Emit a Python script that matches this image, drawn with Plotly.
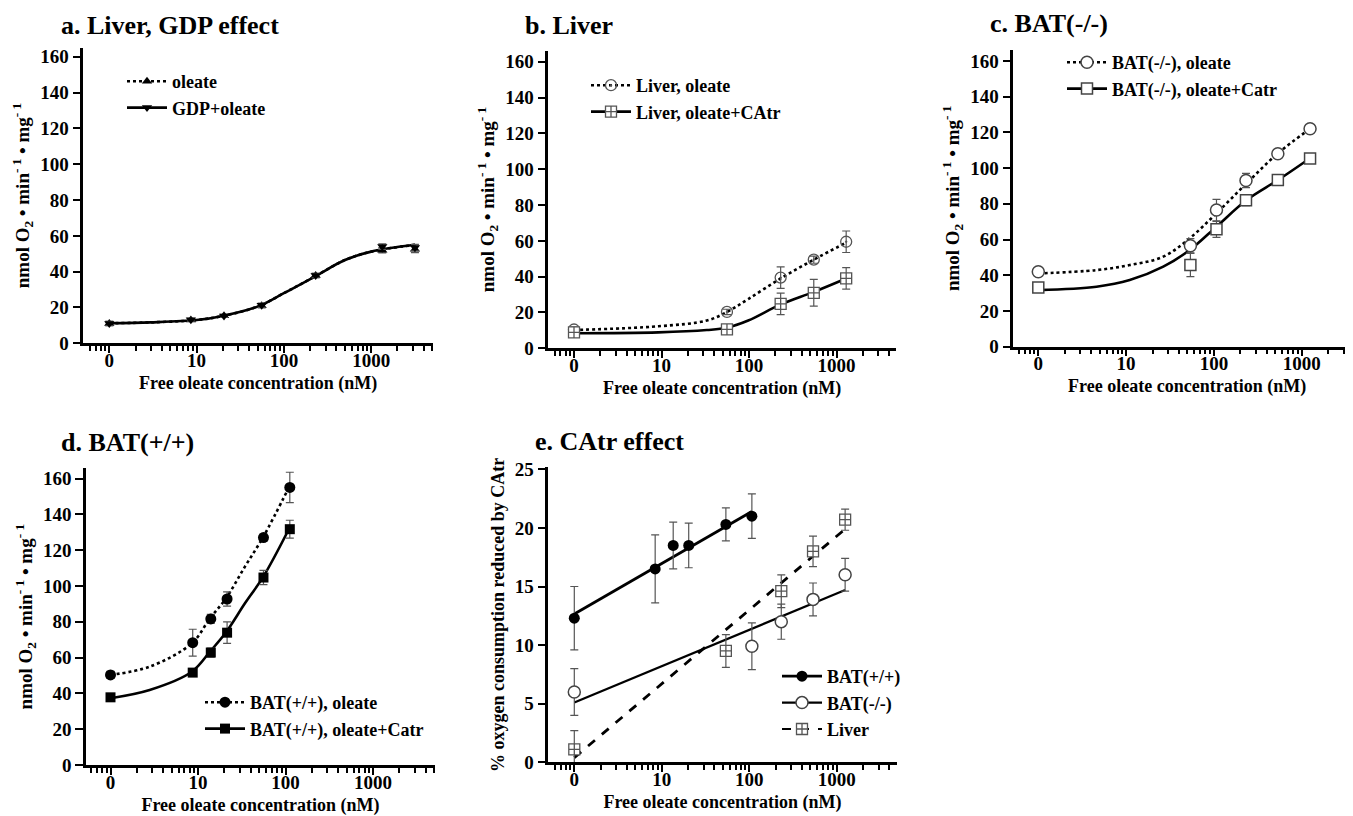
import plotly.graph_objects as go

W, H = 1353, 816
OFF = 8  # page body margin of the browser
FONT = "Liberation Serif"

# ---------------- data ----------------
# a. Liver, GDP effect
a_conc = [0, 8.6, 20.6, 55.6, 231, 1340, 3170]
a_oleate = [11.0, 13.0, 15.4, 21.0, 37.8, 52.0, 52.5]
a_gdp = [11.0, 13.2, 15.2, 21.3, 37.8, 54.0, 53.5]
a_err = [1.2, 0.8, 0.8, 1.2, 1.2, 1.5, 1.8]
a_fit_conc = [0, 3, 10, 20, 50, 100, 230, 500, 1000, 3170]
a_fit = [11.2, 11.7, 13.0, 15.3, 20.5, 28.0, 37.5, 46.5, 51.2, 55.0]

# b. Liver
b_conc = [0, 56, 230, 550, 1290]
b_oleate = [10.5, 20.3, 39.5, 49.5, 59.5]
b_oleate_err = [1.5, 1.5, 6.0, 2.0, 6.0]
b_catr = [8.9, 10.6, 24.8, 31.0, 39.0]
b_catr_err = [1.5, 1.5, 6.0, 7.5, 6.0]
b_fit_conc = [0, 9.2, 33, 56, 98, 230, 550, 1290]
b_oleate_fit = [10.2, 12.3, 15.5, 20.3, 27.5, 39.0, 49.5, 59.0]
b_catr_fit = [8.4, 8.9, 10.2, 11.5, 15.5, 24.5, 31.5, 39.0]

# c. BAT(-/-)
c_conc = [0, 54, 107, 232, 535, 1245]
c_oleate = [42.0, 56.5, 76.5, 93.0, 108.0, 122.0]
c_oleate_err = [1.0, 4.0, 6.0, 4.0, 1.5, 1.5]
c_catr = [33.2, 45.7, 65.7, 82.0, 93.3, 105.3]
c_catr_err = [1.0, 6.5, 4.5, 3.0, 1.5, 1.5]
c_fit_conc = [0, 4.6, 11, 26.5, 53, 107, 236, 537, 1245]
c_oleate_fit = [41.0, 42.9, 45.7, 50.4, 60.7, 74.7, 91.5, 108.3, 122.0]
c_catr_fit = [31.7, 33.6, 37.3, 44.8, 54.1, 67.2, 82.1, 93.3, 105.5]

# d. BAT(+/+)
d_conc = [0, 8.7, 14, 21.5, 56, 112]
d_oleate = [50.3, 68.3, 81.6, 92.7, 127.0, 155.0]
d_oleate_err = [2.0, 7.5, 2.5, 4.0, 2.0, 8.5]
d_catr = [37.8, 51.6, 62.8, 73.9, 104.7, 131.7]
d_catr_err = [1.5, 1.5, 2.5, 6.0, 4.0, 5.0]
d_fit_conc = [0, 2.8, 8.5, 13.7, 20.9, 34.4, 55.8, 110.6]
d_oleate_fit = [50.3, 54.9, 68.0, 81.9, 93.1, 110.8, 127.5, 155.5]
d_catr_fit = [37.3, 41.9, 52.1, 63.3, 74.1, 90.3, 105.2, 132.2]

# e. CAtr effect
e_wt_conc = [0, 8.4, 13.5, 20.3, 54, 107]
e_wt = [12.3, 16.5, 18.5, 18.5, 20.3, 21.0]
e_wt_err = [2.7, 2.9, 2.0, 1.9, 1.4, 1.9]
e_ko_conc = [0, 107, 232, 535, 1245]
e_ko = [6.0, 9.9, 12.0, 13.9, 16.0]
e_ko_err = [2.0, 2.0, 1.5, 1.4, 1.4]
e_liv_conc = [0, 54, 232, 535, 1245]
e_liv = [1.1, 9.5, 14.6, 18.0, 20.7]
e_liv_err = [1.6, 1.4, 1.4, 1.3, 0.9]
e_wt_fit_conc = [0, 107]
e_wt_fit = [12.65, 21.4]
e_ko_fit_conc = [0, 1245]
e_ko_fit = [5.1, 14.7]
e_liv_fit_conc = [0, 1245]
e_liv_fit = [0.4, 19.9]

x_tickvals = [1, 10, 100, 1000]
x_ticktext = ["0", "10", "100", "1000"]
x_title = "Free oleate concentration (nM)"
y_title = "nmol O<sub>2</sub> • min<sup>- 1</sup> • mg<sup>- 1</sup>"
e_y_title = "% oxygen consumption reduced by CAtr"


def xp(conc):
    # the "0" concentration is drawn at the first decade position
    return [c if c > 0 else 1 for c in conc]


minor_vals = [m * 10 ** k for k in range(-1, 4) for m in range(2, 10)
              if 0.5 <= m * 10 ** k <= 5000]

fig = go.Figure()

BLACK = "black"
GRAY = "#555555"


def err(arr, color=GRAY):
    return dict(type="data", array=arr, visible=True, color=color,
                thickness=1.2, width=4)


def add_line(x, y, dash, ax, width=2.6):
    fig.add_trace(go.Scatter(x=xp(x), y=y, mode="lines",
                             line=dict(color=BLACK, width=width, dash=dash,
                                       shape="spline", smoothing=1.0),
                             xaxis="x" + ax, yaxis="y" + ax,
                             showlegend=False, hoverinfo="skip"))


def add_pts(x, y, e, marker, ax, name):
    fig.add_trace(go.Scatter(x=xp(x), y=y, mode="markers", marker=marker,
                             error_y=err(e), xaxis="x" + ax, yaxis="y" + ax,
                             showlegend=False, name=name))


def add_leg(name, dash, marker, legend, width=2.6):
    fig.add_trace(go.Scatter(x=[None], y=[None], mode="lines+markers",
                             name=name, marker=marker,
                             line=dict(color=BLACK, width=width, dash=dash),
                             legend=legend, showlegend=True))


# markers
m_tri_up = dict(symbol="triangle-up", size=9, color=BLACK)
m_tri_dn = dict(symbol="triangle-down", size=9, color=BLACK)
m_circ_dot = dict(symbol="circle-open-dot", size=11, color=GRAY, line=dict(width=1.3))
m_sq_cross = dict(symbol="square-cross", size=11, color="white", line=dict(color=GRAY, width=1.3))
m_circ_open = dict(symbol="circle", size=12, color="white", line=dict(color="#444444", width=1.5))
m_sq_open = dict(symbol="square", size=11, color="white", line=dict(color="#444444", width=1.5))
m_circ_fill = dict(symbol="circle", size=11, color=BLACK)
m_sq_fill = dict(symbol="square", size=10, color=BLACK)

# ---- panel a ----
add_line(a_fit_conc, a_fit, "solid", "")
add_line(a_fit_conc, a_fit, "dot", "")
add_pts(a_conc, a_oleate, a_err, m_tri_up, "", "oleate")
add_pts(a_conc, a_gdp, a_err, m_tri_dn, "", "GDP+oleate")
add_leg("oleate", "dot", m_tri_up, "legend")
add_leg("GDP+oleate", "solid", m_tri_dn, "legend")

# ---- panel b ----
add_line(b_fit_conc, b_oleate_fit, "dot", "2")
add_line(b_fit_conc, b_catr_fit, "solid", "2")
add_pts(b_conc, b_oleate, b_oleate_err, m_circ_dot, "2", "Liver, oleate")
add_pts(b_conc, b_catr, b_catr_err, m_sq_cross, "2", "Liver, oleate+CAtr")
add_leg("Liver, oleate", "dot", m_circ_dot, "legend2")
add_leg("Liver, oleate+CAtr", "solid", m_sq_cross, "legend2")

# ---- panel c ----
add_line(c_fit_conc, c_oleate_fit, "dot", "3")
add_line(c_fit_conc, c_catr_fit, "solid", "3")
add_pts(c_conc, c_oleate, c_oleate_err, m_circ_open, "3", "BAT(-/-), oleate")
add_pts(c_conc, c_catr, c_catr_err, m_sq_open, "3", "BAT(-/-), oleate+Catr")
add_leg("BAT(-/-), oleate", "dot", m_circ_open, "legend3")
add_leg("BAT(-/-), oleate+Catr", "solid", m_sq_open, "legend3")

# ---- panel d ----
add_line(d_fit_conc, d_oleate_fit, "dot", "4")
add_line(d_fit_conc, d_catr_fit, "solid", "4")
add_pts(d_conc, d_oleate, d_oleate_err, m_circ_fill, "4", "BAT(+/+), oleate")
add_pts(d_conc, d_catr, d_catr_err, m_sq_fill, "4", "BAT(+/+), oleate+Catr")
add_leg("BAT(+/+), oleate", "dot", m_circ_fill, "legend4")
add_leg("BAT(+/+), oleate+Catr", "solid", m_sq_fill, "legend4")

# ---- panel e ----
add_line(e_wt_fit_conc, e_wt_fit, "solid", "5", 2.8)
add_line(e_ko_fit_conc, e_ko_fit, "solid", "5", 2.2)
add_line(e_liv_fit_conc, e_liv_fit, "dash", "5", 2.8)
add_pts(e_wt_conc, e_wt, e_wt_err, m_circ_fill, "5", "BAT(+/+)")
add_pts(e_ko_conc, e_ko, e_ko_err, m_circ_open, "5", "BAT(-/-)")
add_pts(e_liv_conc, e_liv, e_liv_err, m_sq_cross, "5", "Liver")
add_leg("BAT(+/+)", "solid", m_circ_fill, "legend5", 2.8)
add_leg("BAT(-/-)", "solid", m_circ_open, "legend5", 2.2)
add_leg("Liver", "dash", m_sq_cross, "legend5", 2.2)

# ---------------- layout ----------------
def fx(px):
    return (px - OFF) / W


def fy(py):
    return 1 - (py - OFF) / H


# geometry in screen pixels: y-axis x, zero-decade x, px per decade, right end,
# y of 0, top, y max
panels = {
    "": dict(yx=83.3, x0=109.3, dec=87.3, right=433, yb=343.3, yt=47.7, ymax=165.1, dtick=20),
    "2": dict(yx=548.3, x0=574.0, dec=87.5, right=896, yb=348.3, yt=50.7, ymax=166.2, dtick=20),
    "3": dict(yx=1013.3, x0=1038.3, dec=87.8, right=1361, yb=346.7, yt=50.0, ymax=166.1, dtick=20),
    "4": dict(yx=86.0, x0=110.5, dec=87.5, right=435, yb=765.0, yt=468.3, ymax=165.7, dtick=20),
    "5": dict(yx=548.3, x0=574.3, dec=87.5, right=896.7, yb=762.3, yt=467.3, ymax=25.17, dtick=5),
}

tickfont = dict(family=FONT, size=19, color=BLACK, weight="bold")
titlefont = dict(family=FONT, size=18, color=BLACK, weight="bold")
ytitlefont = dict(family=FONT, size=19, color=BLACK, weight="bold")

lay = dict(width=W, height=H, margin=dict(l=0, r=0, t=0, b=0, autoexpand=False),
           paper_bgcolor="white", plot_bgcolor="white", showlegend=True)

for ax, p in panels.items():
    xr = [(p["yx"] - p["x0"]) / p["dec"], (p["right"] - p["x0"]) / p["dec"]]
    lay["xaxis" + ax] = dict(
        type="log", range=xr, domain=[fx(p["yx"]), min(1.0, fx(p["right"]))],
        anchor="y" + ax, showline=True, linewidth=2.5, linecolor=BLACK,
        ticks="outside", ticklen=7, tickwidth=2, tickcolor=BLACK,
        tickvals=x_tickvals, ticktext=x_ticktext, tickfont=tickfont,
        ticklabelstandoff=-9,
        showgrid=False, zeroline=False, automargin=False,
        minor=dict(ticks="outside", ticklen=5, tickwidth=1.6, tickcolor=BLACK,
                   tickvals=minor_vals, showgrid=False),
        title=dict(text=x_title, font=titlefont, standoff=7),
    )
    lay["yaxis" + ax] = dict(
        range=[0, p["ymax"]], domain=[fy(p["yb"]), fy(p["yt"])],
        anchor="x" + ax, showline=True, linewidth=2.5, linecolor=BLACK,
        ticks="outside", ticklen=8, tickwidth=2, tickcolor=BLACK,
        dtick=p["dtick"], tick0=0, tickfont=tickfont,
        showgrid=False, zeroline=False, automargin=False,
        title=dict(text=e_y_title if ax == "5" else y_title,
                   font=titlefont if ax == "5" else ytitlefont, standoff=6),
    )

legfont = dict(family=FONT, size=18, color=BLACK, weight="bold")


def leg(xpx, ypx):
    return dict(x=fx(xpx), y=fy(ypx), xanchor="left", yanchor="top",
                bgcolor="rgba(0,0,0,0)", font=legfont, itemwidth=40,
                tracegroupgap=0)


lay["legend"] = leg(122, 63)
lay["legend2"] = leg(586, 67)
lay["legend3"] = leg(1062, 44)
lay["legend4"] = leg(200, 684)
lay["legend5"] = leg(777, 658)

titles = [
    ("a. Liver, GDP effect", 59, 25),
    ("b. Liver", 523, 25),
    ("c. BAT(-/-)", 988, 23),
    ("d. BAT(+/+)", 59, 442),
    ("e. CAtr effect", 533, 441),
]
lay["annotations"] = [
    dict(text=t, x=fx(x), y=fy(y), xref="paper", yref="paper",
         xanchor="left", yanchor="middle", showarrow=False,
         font=dict(family=FONT, size=26, color=BLACK, weight="bold"))
    for t, x, y in titles
]

fig.update_layout(**lay)
fig.write_html("out.html")
